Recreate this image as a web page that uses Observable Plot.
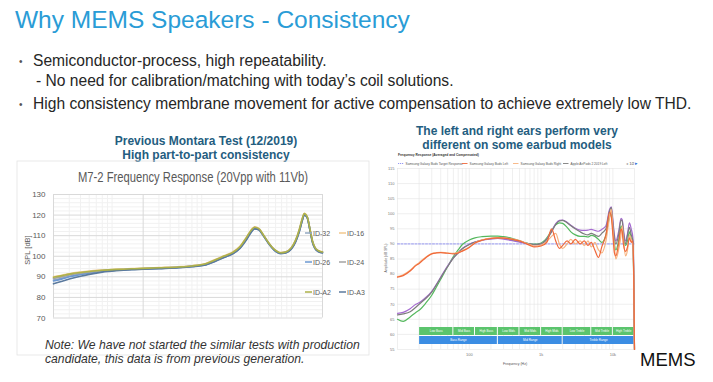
<!DOCTYPE html>
<html><head><meta charset="utf-8">
<script src="https://cdn.jsdelivr.net/npm/d3@7"></script>
<script src="https://cdn.jsdelivr.net/npm/@observablehq/plot@0.6"></script>
<style>
html,body{margin:0;padding:0;background:#fff;}
#slide{position:relative;width:713px;height:382px;overflow:hidden;background:#fff;}
</style></head><body><div id="slide"></div>
<script>
// ---------------- Left chart data (M7-2 Frequency Response) ----------------
const freqL = [20, 25, 30, 40, 50, 70, 100, 150, 200, 300, 500, 700, 1000, 1300, 1600, 2000, 2400, 2800, 3200, 3500, 3900, 4400, 5000, 5800, 6800, 7800, 9000, 10000, 11000, 12000, 12500, 13500, 14500, 15500, 16500, 18000, 20000];
const id32 = [88.4, 89.4, 90.3, 91.3, 92.0, 92.8, 93.3, 93.7, 93.9, 94.2, 94.6, 95.1, 96.0, 98.0, 99.7, 101.5, 104.1, 108.0, 112.0, 113.6, 113.0, 109.9, 106.3, 103.0, 101.4, 101.8, 103.8, 107.2, 112.2, 118.2, 120.3, 118.8, 112.8, 106.9, 103.9, 102.4, 101.8];
const id16 = [90.0, 90.8, 91.5, 92.3, 92.8, 93.3, 93.7, 94.0, 94.2, 94.5, 94.9, 95.4, 96.5, 98.6, 100.3, 102.1, 104.8, 108.9, 112.8, 114.3, 113.5, 110.3, 106.7, 103.4, 101.8, 102.2, 104.3, 107.9, 113.0, 119.0, 120.9, 119.3, 113.3, 107.3, 104.3, 102.8, 102.2];
const id26 = [88.0, 89.0, 90.0, 91.1, 91.9, 92.7, 93.2, 93.6, 93.8, 94.1, 94.5, 95.0, 95.9, 97.8, 99.5, 101.3, 103.9, 107.8, 111.8, 113.4, 112.9, 109.8, 106.2, 102.9, 101.3, 101.7, 103.6, 107.0, 112.0, 118.0, 120.2, 118.9, 112.7, 106.7, 103.8, 102.3, 101.7];
const id24 = [89.2, 90.1, 90.9, 91.8, 92.4, 93.0, 93.4, 93.8, 94.0, 94.3, 94.7, 95.2, 96.2, 98.2, 99.9, 101.7, 104.3, 108.3, 112.3, 113.9, 113.2, 110.1, 106.5, 103.2, 101.6, 102.0, 104.0, 107.4, 112.4, 118.4, 120.4, 119.0, 113.0, 107.1, 104.1, 102.6, 102.0];
const idA2 = [89.8, 90.6, 91.3, 92.1, 92.6, 93.2, 93.6, 93.9, 94.1, 94.4, 94.8, 95.3, 96.4, 98.4, 100.1, 101.9, 104.6, 108.7, 112.6, 114.1, 113.4, 110.2, 106.6, 103.3, 101.7, 102.1, 104.2, 107.7, 112.8, 118.8, 120.8, 119.2, 113.2, 107.2, 104.2, 102.7, 102.1];
const idA3 = [86.6, 87.9, 88.9, 90.3, 91.2, 92.3, 93.0, 93.5, 93.7, 94.0, 94.4, 94.9, 95.8, 97.7, 99.4, 101.2, 103.8, 107.6, 111.6, 113.3, 112.8, 109.9, 106.3, 103.0, 101.4, 101.6, 103.5, 106.8, 111.8, 117.8, 120.0, 118.7, 112.6, 106.6, 103.7, 102.2, 101.6];
const namesL = ["ID-32", "ID-16", "ID-26", "ID-24", "ID-A2", "ID-A3"];
const colorsL = ["#93a9c2", "#f2c98e", "#6b98d2", "#a3a3a3", "#aeb24a", "#5b7a9e"];
const xTicksL = [20, 200, 2000, 20000];
const yTicksL = [70, 80, 90, 100, 110, 120, 130];

// ---------------- Right chart data (earbud frequency response) ----------------
const freqR = [10, 12, 15, 18, 20, 25, 30, 35, 40, 50, 60, 70, 80, 100, 120, 150, 200, 250, 300, 400, 500, 600, 700, 800, 1000, 1200, 1400, 1600, 1800, 2000, 2300, 2600, 3000, 3500, 4000, 4500, 5000, 5600, 6300, 7000, 8000, 9000, 9500, 10000, 10500, 11000, 12000, 13000, 13500, 14000, 15000, 16000, 17000, 18000, 19000, 19500, 20000];
const samsungLeft = [79, 79.5, 81, 82.8, 83.5, 85.5, 86.7, 87, 87.1, 86.9, 86.7, 87, 87.6, 88.8, 90.3, 91.2, 91.8, 92, 91.9, 91.5, 91, 90.2, 89.5, 89, 89.3, 90.5, 95, 91, 88.5, 89.5, 91, 90, 91.5, 90, 91, 89.5, 90.5, 88, 85.5, 89, 93, 100.5, 99, 93, 87, 86, 90, 95, 94, 90, 87.5, 89, 92, 90.5, 91, 80, 55];
const samsungRight = [79.2, 79.8, 81.3, 83, 83.8, 85.7, 86.8, 87.1, 87.2, 87, 86.9, 87.2, 87.8, 89, 90.4, 91.3, 91.9, 92.1, 92, 91.6, 91.1, 90.4, 89.8, 89.3, 89.6, 90.8, 92.5, 93.5, 90, 88.5, 90, 91.5, 90, 91, 89.5, 91, 89, 90.5, 88, 87, 91, 99, 101.5, 95, 89, 85, 88, 93, 96, 92, 86, 88, 93, 91.5, 89.5, 78, 55];
const airpodsLeft = [66.5, 66.8, 67.5, 69, 70, 72, 74, 76.5, 78.8, 82.5, 85.3, 87, 88.4, 89.8, 90.6, 91.3, 91.8, 92, 91.9, 91.4, 90.9, 90.4, 90, 89.8, 90, 91.5, 94, 96.5, 97.6, 97.8, 97, 96, 95, 94, 93.3, 93, 93.5, 93, 92.5, 93.5, 95, 101, 102, 97, 92, 90, 93, 98, 97.5, 94, 90, 93, 95.5, 93, 91, 80, 55];
const airpodsRight = [67, 67.3, 68.5, 70, 70.5, 72.3, 74.3, 76.7, 79, 82.7, 85.4, 87.1, 88.5, 89.9, 90.6, 91.2, 91.6, 91.8, 91.6, 91.1, 90.6, 90.2, 89.9, 89.7, 90, 91.6, 94.2, 96.7, 97.8, 97.9, 97.2, 96.2, 95.2, 94.6, 94.5, 94.6, 94.8, 94.5, 94.2, 94.8, 96, 101.5, 102.3, 98, 93, 91, 94, 98.5, 98, 95, 91, 93.5, 97, 95, 92, 81, 55];
const budsPlus = [65, 64.3, 65.8, 67.3, 68, 70.5, 73, 75.8, 78.3, 82.5, 85.8, 88, 89.8, 91.3, 92, 92.4, 92.6, 92.6, 92.4, 91.8, 91, 90.4, 90, 89.9, 90.3, 92, 94.5, 96.3, 97, 96.8, 95.5, 94, 93, 92.5, 92.5, 92.3, 92.8, 92.5, 91.5, 90.5, 93, 99, 100, 95, 90, 88, 91, 96, 95, 92, 89.5, 91, 94, 92, 90, 78, 55];
const targetF = [10, 20000];
const targetV = [90, 90];
const namesR = ["Samsung Galaxy Buds+ Left", "Apple AirPods 2 2019 Right", "Apple AirPods 2 2019 Left", "Samsung Galaxy Buds Right", "Samsung Galaxy Buds Left"];
const colorsR = ["#55b85e", "#a56ad0", "#7d7d7d", "#f7b27e", "#f0683a"];
const legendR = ["Samsung Galaxy Buds Target Response", "Samsung Galaxy Buds Left", "Samsung Galaxy Buds Right", "Apple AirPods 2 2019 Left"];
const bandNames = ["Low Bass", "Mid Bass", "High Bass", "Low Mids", "Mid Mids", "High Mids", "Low Treble", "Mid Treble", "High Treble"];
const bandEdges = [20, 60, 120, 250, 500, 1000, 2000, 5000, 10000, 20000];
const rangeNames = ["Bass Range", "Mid Range", "Treble Range"];
const rangeEdges = [20, 250, 2000, 20000];
const xTicksR = [20, 100, 1000, 2000, 10000, 20000];
const xTickLabelsR = ["20", "100", "1k", "2k", "10k", "20k"];
const yTicksR = [55, 60, 65, 70, 75, 80, 85, 90, 95, 100, 105, 110, 115];

// ---------------- Slide texts ----------------
const slideTitle = "Why MEMS Speakers - Consistency";
const bullets = ["Semiconductor-process, high repeatability.", "- No need for calibration/matching with today\u2019s coil solutions.", "High consistency membrane movement for active compensation to achieve extremely low THD."];
const headL = ["Previous Montara Test (12/2019)", "High part-to-part consistency"];
const headR = ["The left and right ears perform very", "different on some earbud models"];
const chartTitleL = "M7-2 Frequency Response (20Vpp with 11Vb)";
const noteL = ["Note: We have not started the similar tests with production", "candidate, this data is from previous generation."];

const slide = document.getElementById("slide");
const SANS = "'Liberation Sans', Arial, sans-serif";

// ---------- left chart ----------
const seriesL = [id32, id16, id26, id24, idA2, idA3];
const rowsL = [];
namesL.forEach((n, k) => freqL.forEach((f, i) => rowsL.push({series: n, f, v: seriesL[k][i]})));
const drawOrderL = ["ID-16", "ID-32", "ID-26", "ID-24", "ID-A3", "ID-A2"];
const minorXL = [];
[20, 200, 2000].forEach(d => [1.5, 2, 2.5, 3, 3.5, 4, 4.5].forEach(m => minorXL.push(d * m)));
const minorYL = d3.range(72, 130, 2).filter(v => v % 10 !== 0);

const leftPlot = Plot.plot({
  width: 315, height: 152,
  marginLeft: 36, marginRight: 10, marginTop: 10, marginBottom: 18.5,
  style: {background: "transparent", fontFamily: SANS, overflow: "visible"},
  x: {type: "log", domain: [20, 20000]},
  y: {domain: [70, 130]},
  color: {domain: namesL, range: colorsL},
  marks: [
    Plot.gridX(minorXL, {stroke: "#f1f1f1", strokeOpacity: 1}),
    Plot.gridY(minorYL, {stroke: "#f1f1f1", strokeOpacity: 1}),
    Plot.gridX(xTicksL, {stroke: "#d9d9d9", strokeOpacity: 1}),
    Plot.gridY(yTicksL, {stroke: "#d9d9d9", strokeOpacity: 1}),
    ...drawOrderL.map(n => Plot.line(rowsL.filter(r => r.series === n), {x: "f", y: "v", stroke: "series", strokeWidth: 1.6, curve: "monotone-x"})),
    Plot.axisX(xTicksL, {tickSize: 0, tickPadding: 10, fontSize: 8, fill: "#595959", tickFormat: d => String(d), label: null}),
    Plot.axisY(yTicksL, {tickSize: 0, tickPadding: 8, fontSize: 8, fill: "#595959", label: null})
  ]
});
Object.assign(leftPlot.style, {position: "absolute", left: "17px", top: "184px"});
slide.appendChild(leftPlot);

// ---------- right chart ----------
const seriesR = [budsPlus, airpodsRight, airpodsLeft, samsungRight, samsungLeft];
const rowsR = [];
namesR.forEach((n, k) => freqR.forEach((f, i) => rowsR.push({series: n, f, v: seriesR[k][i]})));
const targetRows = targetF.map((f, i) => ({f, v: targetV[i]}));
const bands = bandNames.map((name, i) => ({name, lo: bandEdges[i], hi: bandEdges[i + 1]}));
const ranges = rangeNames.map((name, i) => ({name, lo: rangeEdges[i], hi: rangeEdges[i + 1]}));
const minorXR = [];
[10, 100, 1000, 10000].forEach(d => [1, 2, 3, 4, 5, 6, 7, 8, 9].forEach(m => { if (d * m <= 20000) minorXR.push(d * m); }));

const rightPlot = Plot.plot({
  width: 268, height: 207,
  marginLeft: 25, marginRight: 6, marginTop: 6, marginBottom: 20,
  style: {background: "transparent", fontFamily: SANS, overflow: "visible"},
  x: {type: "log", domain: [10, 20000]},
  y: {domain: [55, 115]},
  color: {domain: namesR, range: colorsR},
  marks: [
    Plot.gridX(minorXR, {stroke: "#e4e4e4", strokeOpacity: 1, strokeWidth: 0.6}),
    Plot.gridY(yTicksR, {stroke: "#e4e4e4", strokeOpacity: 1, strokeWidth: 0.6}),
    Plot.rect(bands, {x1: "lo", x2: "hi", fill: "#5bc46d", insetTop: 159, insetBottom: 14, insetLeft: 0.5, insetRight: 0.5}),
    Plot.rect(ranges, {x1: "lo", x2: "hi", fill: "#3b8de3", insetTop: 168, insetBottom: 5, insetLeft: 0.5, insetRight: 0.5}),
    Plot.text(bands, {x: d => Math.sqrt(d.lo * d.hi), text: "name", frameAnchor: "bottom", dy: -18, fill: "white", fontSize: 3}),
    Plot.text(ranges, {x: d => Math.sqrt(d.lo * d.hi), text: "name", frameAnchor: "bottom", dy: -9, fill: "white", fontSize: 3}),
    Plot.line(targetRows, {x: "f", y: "v", stroke: "#8a8cf2", strokeWidth: 0.9, strokeDasharray: "2,1.5"}),
    ...namesR.map(n => Plot.line(rowsR.filter(r => r.series === n), {x: "f", y: "v", stroke: "series", strokeWidth: 1.2, curve: "monotone-x"})),
    Plot.axisX(xTicksR, {tickSize: 0, tickPadding: 4, fontSize: 4, fill: "#777", tickFormat: d => xTickLabelsR[xTicksR.indexOf(d)], label: null}),
    Plot.axisY(yTicksR, {tickSize: 0, tickPadding: 3, fontSize: 4, fill: "#777", label: null})
  ]
});
Object.assign(rightPlot.style, {position: "absolute", left: "372px", top: "162px"});
slide.appendChild(rightPlot);

// ---------- overlay texts ----------
const svg = d3.select(slide).append("svg")
  .attr("width", 713).attr("height", 382)
  .style("position", "absolute").style("left", "0px").style("top", "0px");

function txt(x, y, s, o = {}) {
  const t = svg.append("text").attr("x", x).attr("y", y).text(s)
    .attr("font-family", o.family || SANS).attr("font-size", o.size || 10)
    .attr("fill", o.fill || "#222");
  if (o.weight) t.attr("font-weight", o.weight);
  if (o.anchor) t.attr("text-anchor", o.anchor);
  if (o.italic) t.attr("font-style", "italic");
  if (o.len) t.attr("textLength", o.len).attr("lengthAdjust", "spacingAndGlyphs");
  if (o.rotate) t.attr("transform", `rotate(-90 ${x} ${y})`);
  return t;
}

// title & bullets
txt(15, 28, slideTitle, {size: 24.5, fill: "#2a9cd6"});
txt(19, 65, "\u2022", {size: 10, fill: "#555"});
txt(33, 66, bullets[0], {size: 15.6, fill: "#262626"});
txt(36, 86, bullets[1], {size: 15.6, fill: "#262626"});
txt(19, 108, "\u2022", {size: 10, fill: "#555"});
txt(33, 109, bullets[2], {size: 15.6, fill: "#262626"});

// headlines
txt(206, 145, headL[0], {size: 12, weight: "bold", fill: "#245d80", anchor: "middle"});
txt(206, 159, headL[1], {size: 12, weight: "bold", fill: "#245d80", anchor: "middle"});
txt(517, 135, headR[0], {size: 12, weight: "bold", fill: "#245d80", anchor: "middle"});
txt(517, 149, headR[1], {size: 12, weight: "bold", fill: "#245d80", anchor: "middle"});

// left chart frame, title, labels, legend
svg.append("rect").attr("x", 17).attr("y", 161).attr("width", 352).attr("height", 194)
  .attr("fill", "none").attr("stroke", "#e3e3e3").attr("stroke-width", 0.8);
txt(78, 182, chartTitleL, {size: 14, fill: "#595959", len: 230});
txt(30, 250, "SPL [dB]", {size: 7.5, fill: "#595959", anchor: "middle", rotate: true});
const legPos = [[305, 233], [339, 233], [305, 262], [339, 262], [305, 292], [339, 292]];
namesL.forEach((n, i) => {
  const [x, y] = legPos[i];
  svg.append("line").attr("x1", x).attr("x2", x + 7).attr("y1", y).attr("y2", y)
    .attr("stroke", colorsL[i]).attr("stroke-width", 1.5);
  txt(x + 8, y + 2.5, n, {size: 7, fill: "#595959"});
});
txt(45, 349, noteL[0], {size: 12.2, italic: true, fill: "#333"});
txt(45, 363, noteL[1], {size: 12.2, italic: true, fill: "#333"});

// right chart title / legend / axis titles
txt(398, 156, "Frequency Response (Averaged and Compensated)", {size: 3.3, weight: "bold", fill: "#333"});
const legX = [398, 462, 513, 563];
const legC = ["#8a8cf2", "#f0683a", "#f7b27e", "#7d7d7d"];
legendR.forEach((n, i) => {
  const ln = svg.append("line").attr("x1", legX[i]).attr("x2", legX[i] + 5.5).attr("y1", 163.5).attr("y2", 163.5)
    .attr("stroke", legC[i]).attr("stroke-width", 0.9);
  if (i === 0) ln.attr("stroke-dasharray", "1.2,0.8");
  txt(legX[i] + 7.5, 164.6, n, {size: 3.2, fill: "#555"});
});
txt(626, 165, "\u25C2", {size: 4, fill: "#999"});
txt(629.5, 165, "1/2", {size: 3.4, fill: "#333"});
txt(634.5, 165, "\u25B8", {size: 4.5, fill: "#2a6fd8"});
txt(387, 258, "Amplitude (dB SPL)", {size: 3.3, fill: "#555", anchor: "middle", rotate: true});
txt(515, 365, "Frequency (Hz)", {size: 3.5, fill: "#555", anchor: "middle"});

// logo
txt(640, 366, "MEMS", {size: 18.5, fill: "#111"});
</script></body></html>
